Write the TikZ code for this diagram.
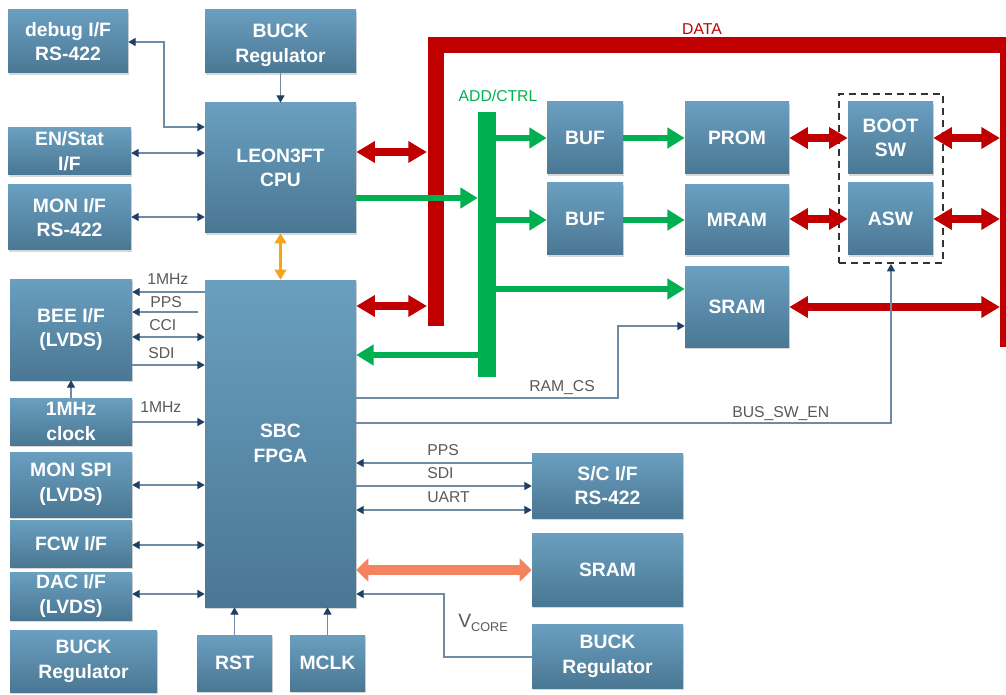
\documentclass[tikz,border=0pt]{standalone}
\usepackage{fontspec}
\setmainfont{Liberation Sans}
\usetikzlibrary{arrows.meta,shadows,calc}
\definecolor{bxtop}{HTML}{6A9FC0}
\definecolor{bxbot}{HTML}{4A7793}
\definecolor{lnc}{HTML}{6F8BA6}
\definecolor{navy}{HTML}{1F3F63}
\definecolor{lblc}{HTML}{595959}
\definecolor{busred}{HTML}{C00000}
\definecolor{busgreen}{HTML}{00B050}
\definecolor{orng}{HTML}{F7A21B}
\definecolor{salmon}{HTML}{F4845F}
\definecolor{dashc}{HTML}{333333}
\tikzset{
  blk/.style={inner sep=0pt, top color=bxtop, bottom color=bxbot, draw=none,
    drop shadow={shadow xshift=1pt, shadow yshift=-1.5pt, opacity=0.3},
    text=white, font=\fontsize{14.5}{18.5}\selectfont\bfseries, align=center},
  blktxt/.style={inner sep=0pt, text=white, font=\fontsize{14.5}{18.5}\selectfont\bfseries, align=center},
  con/.style={draw=lnc, line width=0.9pt},
  lbl/.style={text=lblc, font=\fontsize{11.8}{13}\selectfont, inner sep=0pt, anchor=west},
  redar/.style={busred, line width=5.5pt, {Triangle[length=14pt,width=15.5pt]}-{Triangle[length=14pt,width=15.5pt]}},
  grnar/.style={busgreen, line width=5pt, -{Triangle[length=13pt,width=15pt]}},
  >={Triangle[length=5.5pt,width=6pt,color=navy]}
}
% \mkbox[style]{name}{x1}{y1}{x2}{y2}{text}
\newcommand\mkbox[7][blk]{%
  \node[#1, minimum width={(#5-#3)*0.75pt}, minimum height={(#6-#4)*0.75pt}]
    (#2) at ({(#3+#5)/2},{(#4+#6)/2}) {#7};}
\begin{document}
\begin{tikzpicture}[x=0.75pt,y=-0.75pt]
\useasboundingbox (0,0) rectangle (1006,695);
\clip (0,0) rectangle (1006,695);
\fill[white] (0,0) rectangle (1006,695);

% blocks
\mkbox{debug}{8}{10}{128}{73}{debug I/F\\RS-422}
\mkbox[blk, label={[blktxt, yshift=-3pt]center:{BUCK\\Regulator}}]{buck1}{205}{10}{356}{73}{}
\mkbox{leon}{205}{103}{356}{233}{LEON3FT\\CPU}
\mkbox{en}{8}{128}{131}{175}{EN/Stat\\I/F}
\mkbox{mon}{8}{185}{131}{250}{MON I/F\\RS-422}
\mkbox{bee}{10}{279}{132}{380}{BEE I/F\\(LVDS)}
\mkbox{sbc}{205}{280}{356}{607}{SBC\\FPGA}
\mkbox{clk}{10}{398}{132}{445}{1MHz\\clock}
\mkbox{monspi}{10}{452}{132}{517}{MON SPI\\(LVDS)}
\mkbox{fcw}{10}{520}{132}{567}{FCW I/F}
\mkbox{dac}{10}{572}{132}{620}{DAC I/F\\(LVDS)}
\mkbox{buck2}{10}{630}{157}{692}{BUCK\\Regulator}
\mkbox{rst}{197}{635}{272}{691}{RST}
\mkbox{mclk}{290}{635}{365}{691}{MCLK}
\mkbox{buf1}{547}{102}{623}{174}{BUF}
\mkbox{buf2}{547}{183}{623}{255}{BUF}
\mkbox{prom}{685}{102}{789}{174}{PROM}
\mkbox{mram}{685}{185}{789}{255}{MRAM}
\mkbox{sram1}{685}{267}{789}{347}{SRAM}
\mkbox{boot}{848}{102}{933}{174}{BOOT\\SW}
\mkbox{asw}{848}{183}{933}{255}{ASW}
\mkbox{sc}{532}{453}{683}{518}{S/C I/F\\RS-422}
\mkbox{sram2}{532}{533}{683}{606}{SRAM}
\mkbox{buck3}{532}{624}{683}{688}{BUCK\\Regulator}

\mkbox[inner sep=0pt, draw=dashc, line width=1.4pt, dash pattern=on 5pt off 4pt]{dash}{839}{94}{943}{263}{}

% DATA bus
\draw[busred, line width=12pt] (435.5,326) -- (435.5,45.5) -- (1008,45.5) -- (1008,347);
\node[text=busred, font=\fontsize{11.8}{13}\selectfont, inner sep=0pt] (datalbl) at (702,29) {DATA};
\coordinate (dL1) at (427,152);
\coordinate (dL2) at (427,306);
\coordinate (dR1) at (1000,138);
\coordinate (dR2) at (1000,219);
\coordinate (dR3) at (1000,307);

% ADD/CTRL bar
\mkbox[inner sep=0pt, fill=busgreen]{bar}{478}{112}{496}{377}{}
\node[text=busgreen, font=\fontsize{11.8}{13}\selectfont, inner sep=0pt] (addlbl) at (498,96) {ADD/CTRL};

% red data arrows
\draw[redar] (leon.east |- dL1) -- (dL1);
\draw[redar] (sbc.east |- dL2) -- (dL2);
\draw[redar] (prom.east |- dR1) -- (boot.west |- dR1);
\draw[redar] (boot.east |- dR1) -- (dR1);
\draw[redar] (mram.east |- dR2) -- (asw.west |- dR2);
\draw[redar] (asw.east |- dR2) -- (dR2);
\draw[redar] (sram1.east |- dR3) -- (dR3);

% green address arrows
\draw[grnar] (leon.east |- 0,198) -- (bar.west |- 0,198);
\draw[grnar] (bar.east |- 0,138) -- (buf1.west |- 0,138);
\draw[grnar] (buf1.east |- 0,138) -- (prom.west |- 0,138);
\draw[grnar] (bar.east |- 0,220) -- (buf2.west |- 0,220);
\draw[grnar] (buf2.east |- 0,220) -- (mram.west |- 0,220);
\draw[grnar] (bar.east |- 0,289) -- (sram1.west |- 0,289);
\draw[grnar] (bar.west |- 0,355) -- (sbc.east |- 0,355);

% orange arrows
\draw[orng, line width=2.2pt, {Triangle[length=7.5pt,width=8.5pt]}-{Triangle[length=7.5pt,width=8.5pt]}] (leon.south) -- (sbc.north);
\draw[salmon, line width=7pt, {Triangle[length=9pt,width=17pt]}-{Triangle[length=9pt,width=17pt]}] (sbc.east |- 0,570) -- (sram2.west |- 0,570);

% thin connectors, left side
\draw[con,<->] (debug.east |- 0,42) -- (164,42) -- (164,127) -- (leon.west |- 0,127);
\draw[con,<->] (en.east |- 0,153) -- (leon.west |- 0,153);
\draw[con,<->] (mon.east |- 0,217) -- (leon.west |- 0,217);
\draw[con,->] (buck1.south) -- (leon.north);
\draw[con,->] (sbc.west |- 0,292) -- (bee.east |- 0,292);
\coordinate (ppsS) at (198,312);
\draw[con,->] (ppsS) -- (bee.east |- ppsS);
\draw[con,<->] (bee.east |- 0,337) -- (sbc.west |- 0,337);
\draw[con,->] (bee.east |- 0,365) -- (sbc.west |- 0,365);
\draw[con,->] (clk.north) -- (bee.south);
\draw[con,->] (clk.east |- 0,422) -- (sbc.west |- 0,422);
\draw[con,<->] (monspi.east |- 0,485) -- (sbc.west |- 0,485);
\draw[con,<->] (fcw.east |- 0,545) -- (sbc.west |- 0,545);
\draw[con,<->] (dac.east |- 0,594) -- (sbc.west |- 0,594);
\draw[con,->] (rst.north) -- (rst.north |- sbc.south);
\draw[con,->] (mclk.north) -- (mclk.north |- sbc.south);

% thin connectors, right side
\draw[con,->] (sbc.east |- 0,398) -- (618,398) -- (618,326) -- (sram1.west |- 0,326);
\draw[con,->] (sbc.east |- 0,423) -- (891,423) -- (dash.south -| 891,0);
\draw[con,->] (sc.west |- 0,463) -- (sbc.east |- 0,463);
\draw[con,->] (sbc.east |- 0,486) -- (sc.west |- 0,486);
\draw[con,<->] (sbc.east |- 0,510) -- (sc.west |- 0,510);
\draw[con,->] (buck3.west |- 0,657) -- (444,657) -- (444,594) -- (sbc.east |- 0,594);

% labels
\node[lbl] (l1) at (147,279) {1MHz};
\node[lbl] (l2) at (150,302) {PPS};
\node[lbl] (l3) at (149,325) {CCI};
\node[lbl] (l4) at (148,353) {SDI};
\node[lbl] (l5) at (140,407) {1MHz};
\node[lbl] (l6) at (529,388) {RAM\_CS};
\node[lbl] (l7) at (732,414) {BUS\_SW\_EN};
\node[lbl] (l8) at (427,450) {PPS};
\node[lbl] (l9) at (427,473) {SDI};
\node[lbl] (l10) at (427,497) {UART};
\node[lbl, anchor=base west] (l11) at (458,627) {{\fontsize{14.5}{16}\selectfont V}\raisebox{-3pt}{\fontsize{9.5}{10}\selectfont CORE}};
\end{tikzpicture}
\end{document}
